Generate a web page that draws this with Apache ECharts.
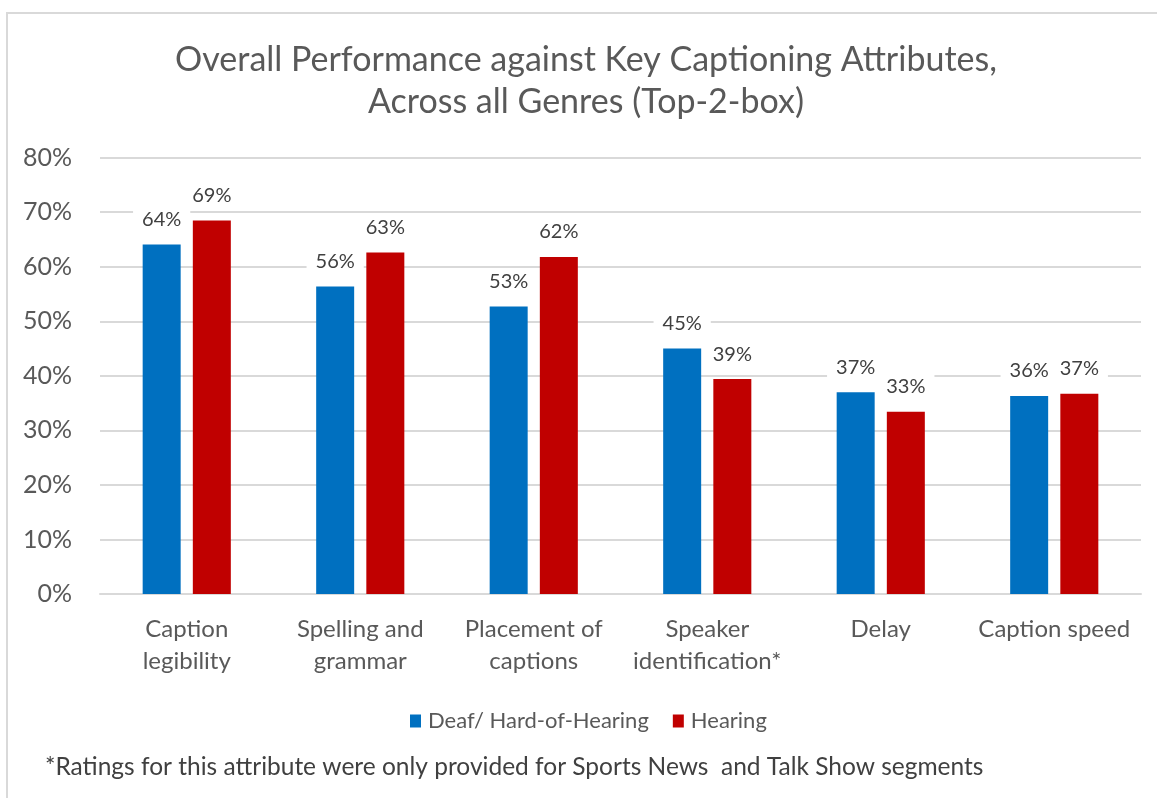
<!DOCTYPE html>
<html>
<head>
<meta charset="utf-8">
<script src="https://cdn.jsdelivr.net/npm/echarts@6/dist/echarts.min.js"></script>
<style>
  html, body { margin: 0; padding: 0; overflow: hidden; background: #fff; }
  #frame { position: absolute; left: 6px; top: 12px; width: 1300px; height: 900px; border: 2px solid #d9d9d9; box-sizing: border-box; }
  #chart { position: absolute; left: 0; top: 0; width: 1157px; height: 798px; }
</style>
</head>
<body>
<div id="frame"></div>
<div id="chart"></div>
<script>
// categories (x axis)
const categories = ['Caption\nlegibility', 'Spelling and\ngrammar', 'Placement of\ncaptions', 'Speaker\nidentification*', 'Delay', 'Caption speed'];
// values in percent
const deafValues = [64.1, 56.4, 52.7, 45.0, 37.0, 36.3];
const hearingValues = [68.5, 62.6, 61.8, 39.4, 33.4, 36.7];
const seriesNames = ['Deaf/ Hard-of-Hearing', 'Hearing'];

const titleText = 'Overall Performance against Key Captioning Attributes,\nAcross all Genres (Top-2-box)';
const footnote = '*Ratings for this attribute were only provided for Sports News  and Talk Show segments';

const font = 'Lato, "Open Sans", sans-serif';

const barLabel = {
    show: true,
    position: 'top',
    distance: 12,
    color: '#404040',
    fontFamily: font,
    fontSize: 20,
    lineHeight: 20,
    backgroundColor: '#fff',
    padding: [3, 9],
    formatter: p => Math.round(p.value) + '%'
};

const option = {
    animation: false,
    title: [
        {
            text: titleText,
            left: 586,
            top: 39,
            padding: 0,
            textAlign: 'center',
            textStyle: { fontFamily: font, fontSize: 34, lineHeight: 42, fontWeight: 'normal', color: '#595959' }
        },
        {
            text: footnote,
            left: 45,
            top: 754,
            padding: 0,
            textStyle: { fontFamily: font, fontSize: 24.5, lineHeight: 26, fontWeight: 'normal', color: '#404040' }
        }
    ],
    legend: {
        data: seriesNames,
        left: 405,
        top: 705,
        itemWidth: 11,
        itemHeight: 13,
        itemGap: 24,
        icon: 'rect',
        textStyle: { fontFamily: font, fontSize: 22, color: '#595959', padding: [0, 0, 0, 2] }
    },
    grid: { left: 100, right: 16, top: 157.7, bottom: 204, containLabel: false },
    xAxis: {
        type: 'category',
        data: categories,
        axisLine: { lineStyle: { color: '#d9d9d9', width: 2 } },
        axisTick: { show: false },
        axisLabel: { fontFamily: font, fontSize: 24, lineHeight: 32, color: '#595959', margin: 19, interval: 0 }
    },
    yAxis: {
        type: 'value',
        min: 0,
        max: 80,
        interval: 10,
        axisLine: { show: false },
        axisTick: { show: false },
        splitLine: { lineStyle: { color: '#d9d9d9', width: 2 } },
        axisLabel: { fontFamily: font, fontSize: 25, color: '#595959', margin: 28, formatter: '{value}%' }
    },
    series: [
        {
            name: seriesNames[0],
            type: 'bar',
            data: deafValues,
            barWidth: 38,
            barGap: '32%',
            itemStyle: { color: '#0070C0' },
            label: barLabel
        },
        {
            name: seriesNames[1],
            type: 'bar',
            data: hearingValues,
            barWidth: 38,
            barGap: '32%',
            itemStyle: { color: '#C00000' },
            label: barLabel
        }
    ]
};

var chartDom = document.getElementById('chart');
var myChart = echarts.init(chartDom);
option && myChart.setOption(option);
</script>
</body>
</html>
